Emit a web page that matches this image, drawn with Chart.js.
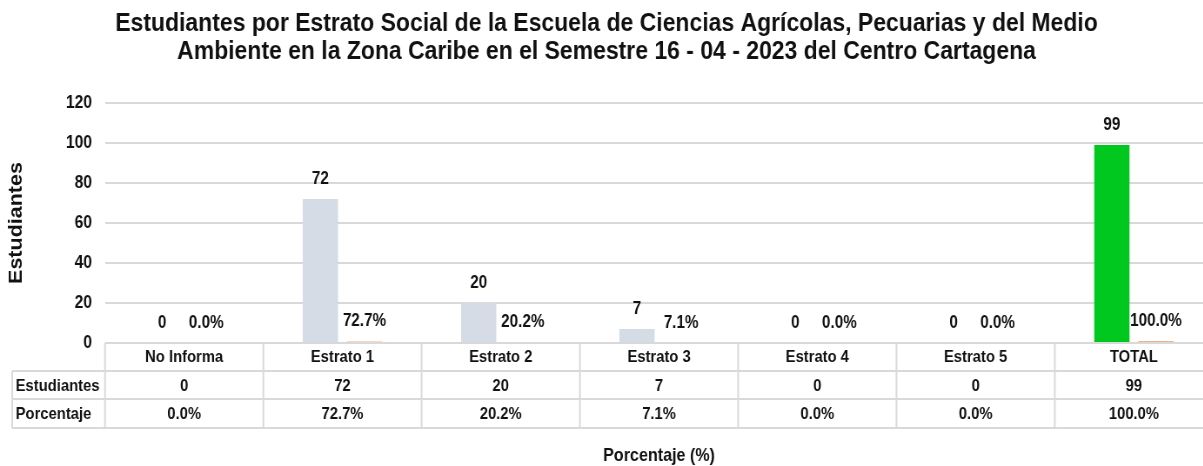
<!DOCTYPE html>
<html>
<head>
<meta charset="utf-8">
<script src="https://cdn.jsdelivr.net/npm/chart.js@4.4.1/dist/chart.umd.min.js"></script>
<style>
  html, body { margin: 0; padding: 0; background: #fff; overflow: hidden; width: 1203px; height: 466px; }
  #wrap { width: 1400px; height: 466px; position: relative; transform: scaleX(0.87); transform-origin: 0 0; }
</style>
</head>
<body>
<div id="wrap"><canvas id="c"></canvas></div>
<script>
const categories = ['No Informa', 'Estrato 1', 'Estrato 2', 'Estrato 3', 'Estrato 4', 'Estrato 5', 'TOTAL'];
const estudiantes = [0, 72, 20, 7, 0, 0, 99];
const porcentaje = [0.0, 72.7, 20.2, 7.1, 0.0, 0.0, 100.0];
const yTicks = [0, 20, 40, 60, 80, 100, 120];
const titleLines = [
  'Estudiantes por Estrato Social de la Escuela de Ciencias Agrícolas, Pecuarias y del Medio',
  'Ambiente en la Zona Caribe en el Semestre 16 - 04 - 2023 del Centro Cartagena'
];
const rowNames = ['Estudiantes', 'Porcentaje'];

const FONT = '"Liberation Sans", Arial, sans-serif';
const TXT = '#111111';
const GRID = '#d9d9d9';

const fmtPct = v => v.toFixed(1) + '%';

const barColors = estudiantes.map((v, i) => i === categories.length - 1 ? '#00c81e' : '#d6dce5');

const labelPlugin = {
  id: 'barLabels',
  afterDatasetsDraw(chart) {
    const ctx = chart.ctx;
    ctx.save();
    ctx.font = 'bold 17.5px ' + FONT;
    ctx.fillStyle = TXT;
    ctx.textAlign = 'center';
    ctx.textBaseline = 'middle';
    chart.data.datasets.forEach((ds, di) => {
      const meta = chart.getDatasetMeta(di);
      meta.data.forEach((el, i) => {
        const txt = di === 0 ? String(estudiantes[i]) : fmtPct(porcentaje[i]);
        ctx.fillText(txt, el.x, el.y - 20);
      });
    });
    ctx.restore();
  }
};

const tablePlugin = {
  id: 'dataTable',
  afterDraw(chart) {
    const ctx = chart.ctx;
    const xs = chart.scales.x;
    const area = chart.chartArea;
    const n = categories.length;
    const colW = (area.right - area.left) / n;
    const top = area.bottom;
    const rowH = [28, 28, 29];
    const y1 = top + rowH[0];
    const y2 = y1 + rowH[1];
    const y3 = y2 + rowH[2];
    const leftX = 14;
    ctx.save();
    ctx.strokeStyle = GRID;
    ctx.lineWidth = 2;
    ctx.beginPath();
    [[area.left, top], [leftX, y1], [leftX, y2], [leftX, y3]].forEach(([x0, y]) => {
      ctx.moveTo(x0, y); ctx.lineTo(area.right, y);
    });
    for (let k = 0; k <= n; k++) {
      const x = area.left + k * colW;
      ctx.moveTo(x, top); ctx.lineTo(x, y3);
    }
    ctx.moveTo(leftX, y1); ctx.lineTo(leftX, y3);
    ctx.stroke();

    ctx.fillStyle = TXT;
    ctx.font = 'bold 17px ' + FONT;
    ctx.textBaseline = 'middle';
    ctx.textAlign = 'left';
    ctx.fillText(rowNames[0], leftX + 4, (y1 + y2) / 2 + 1);
    ctx.fillText(rowNames[1], leftX + 4, (y2 + y3) / 2 + 1);
    ctx.textAlign = 'center';
    categories.forEach((c, i) => {
      const cx = xs.getPixelForValue(i);
      ctx.fillText(String(estudiantes[i]), cx, (y1 + y2) / 2 + 1);
      ctx.fillText(fmtPct(porcentaje[i]), cx, (y2 + y3) / 2 + 1);
    });
    ctx.restore();
  }
};

new Chart(document.getElementById('c'), {
  type: 'bar',
  data: {
    labels: categories,
    datasets: [
      {
        label: 'Estudiantes',
        data: estudiantes,
        backgroundColor: barColors,
        borderWidth: 0,
        categoryPercentage: 0.557,
        barPercentage: 0.8
      },
      {
        label: 'Porcentaje',
        data: porcentaje.map(v => v / 100),
        backgroundColor: '#f4b183',
        borderWidth: 0,
        categoryPercentage: 0.557,
        barPercentage: 0.8
      }
    ]
  },
  options: {
    responsive: true,
    maintainAspectRatio: false,
    animation: false,
    layout: { padding: { left: 0, right: 5.7, top: 0, bottom: 0 } },
    plugins: {
      legend: { display: false },
      tooltip: { enabled: false },
      title: {
        display: true,
        text: titleLines,
        color: TXT,
        font: { family: FONT, size: 26.4, weight: 'bold', lineHeight: 28 / 26.4 },
        padding: { top: 10, bottom: 37 }
      }
    },
    scales: {
      x: {
        grid: { display: false, drawTicks: false },
        border: { display: false },
        ticks: {
          color: TXT,
          font: { family: FONT, size: 17, weight: 'bold' },
          padding: 4,
          maxRotation: 0,
          autoSkip: false
        },
        title: {
          display: true,
          text: 'Porcentaje (%)',
          color: TXT,
          font: { family: FONT, size: 18.5, weight: 'bold', lineHeight: 1.1 },
          padding: { top: 0, bottom: 0 }
        },
        afterFit(s) { s.height = 123; }
      },
      y: {
        min: 0,
        max: 120,
        grid: { color: GRID, lineWidth: 2, drawTicks: false },
        border: { display: false },
        afterBuildTicks(s) { s.ticks = yTicks.map(v => ({ value: v })); },
        ticks: {
          color: TXT,
          font: { family: FONT, size: 18, weight: 'bold' },
          padding: 15
        },
        title: {
          display: true,
          text: 'Estudiantes',
          color: TXT,
          font: { family: FONT, size: 21.5, weight: 'bold', lineHeight: 1.0 },
          padding: { top: 8, bottom: 0 }
        },
        afterFit(s) { s.width = 120.7; }
      }
    }
  },
  plugins: [labelPlugin, tablePlugin]
});
</script>
</body>
</html>
